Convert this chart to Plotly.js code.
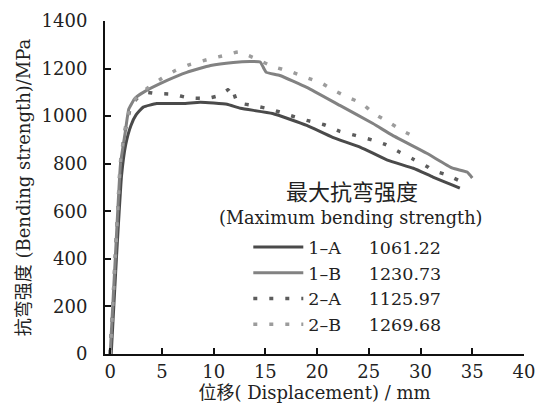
<!DOCTYPE html>
<html>
<head>
<meta charset="utf-8">
<script src="https://cdn.plot.ly/plotly-3.0.1.min.js"></script>
<style>html,body{margin:0;padding:0;background:#fff;}#chart{width:542px;height:407px;}</style>
</head>
<body>
<div id="chart"></div>
<script>
// Series 1-A (dark solid)
const x1A = [0.1,0.6,1.1,1.5,2.0,2.5,3.2,4.5,7.0,8.7,10.0,11.3,12.6,15.7,19.0,21.5,24.2,26.8,29.3,31.2,33.1,33.8];
const y1A = [0,400,750,880,960,1005,1038,1053,1053,1058,1055,1050,1033,1011,961,911,869,815,781,744,710,697];
// Series 1-B (grey solid)
const x1B = [0,0.5,1.0,1.45,1.8,2.4,3.2,5.5,7.4,9.7,11.9,13.5,14.5,14.8,15.1,16.4,19.0,22.2,25.4,27.3,30.6,33.1,34.5,35.0];
const y1B = [0,408,800,930,1030,1075,1100,1150,1184,1213,1226,1230,1228,1205,1184,1171,1121,1045,969,919,844,781,765,740];
// Series 2-A (dark dotted)
const x2A = [0,0.5,1.0,1.5,2.0,2.6,3.5,4.3,6.0,7.6,9.4,10.6,11.5,11.7,12.3,13.8,15.6,17.4,19.0,20.6,22.2,23.7,25.3,26.6,28.0,29.3,30.7,31.1,32.6,34.0];
const y2A = [0,410,800,950,1040,1075,1100,1096,1092,1077,1075,1088,1115,1126,1058,1045,1028,1003,982,965,936,919,900,881,848,819,786,773,752,723];
// Series 2-B (light dotted)
const x2B = [0,0.5,1.0,1.5,2.0,2.6,3.7,5.0,6.3,7.7,9.4,11.0,12.4,13.8,15.7,17.4,18.9,20.3,21.6,23.0,24.3,25.5,26.9,28.2,29.5];
const y2B = [0,410,810,960,1045,1080,1121,1159,1192,1217,1238,1255,1270,1247,1209,1188,1163,1142,1109,1079,1054,1011,975,940,911];

const names = ["1–A", "1–B", "2–A", "2–B"];
const maxStrength = ["1061.22", "1230.73", "1125.97", "1269.68"];
const legendTitle = ["最大抗弯强度", "(Maximum bending strength)"];
const xTicks = [0,5,10,15,20,25,30,35,40];
const yTicks = [0,200,400,600,800,1000,1200,1400];

const NB = "\u00a0\u00a0\u00a0\u00a0\u00a0";
const serif = "DejaVu Serif, Noto Sans CJK SC, serif";
const txt = "#222";

const traces = [
  {x:x1A, y:y1A, name:names[0]+NB+maxStrength[0], mode:"lines", line:{color:"#4a4a4a", width:3, shape:"spline", smoothing:0.4}},
  {x:x1B, y:y1B, name:names[1]+NB+maxStrength[1], mode:"lines", line:{color:"#828282", width:3, shape:"spline", smoothing:0.4}},
  {x:x2A, y:y2A, name:names[2]+NB+maxStrength[2], mode:"lines", line:{color:"#5c5c5c", width:3.5, dash:"4px,12px", shape:"spline", smoothing:0.4}},
  {x:x2B, y:y2B, name:names[3]+NB+maxStrength[3], mode:"lines", line:{color:"#9c9c9c", width:3.5, dash:"4px,12px", shape:"spline", smoothing:0.4}}
];

const layout = {
  width:542, height:407,
  margin:{l:105, r:18, t:21, b:53},
  paper_bgcolor:"#fff", plot_bgcolor:"#fff",
  font:{family:serif, size:18, color:txt},
  showlegend:true,
  legend:{x:0.342, xanchor:"left", y:0.375, yanchor:"top", bgcolor:"rgba(0,0,0,0)",
          font:{family:serif, size:17.5, color:txt}, itemwidth:50, tracegroupgap:0},
  xaxis:{range:[-0.5,40], tickvals:xTicks, ticks:"inside", ticklen:6, tickwidth:2, tickcolor:"#111",
         showline:true, linecolor:"#111", linewidth:2, showgrid:false, zeroline:false,
         tickfont:{family:serif, size:18, color:txt},
         title:{text:"位移( Displacement) / mm", font:{family:serif, size:18, color:txt}, standoff:2}},
  yaxis:{range:[0,1400], tickvals:yTicks, ticks:"inside", ticklen:6, tickwidth:2, tickcolor:"#111",
         showline:true, linecolor:"#111", linewidth:2, showgrid:false, zeroline:false,
         tickfont:{family:serif, size:18, color:txt}, ticklabelstandoff:12,
         title:{text:"抗弯强度 (Bending strength)/MPa", font:{family:serif, size:18, color:txt}, standoff:6}},
  annotations:[
    {text:legendTitle[0], xref:"paper", yref:"paper", x:0.589, y:0.486, xanchor:"center", yanchor:"middle", showarrow:false, font:{family:serif, size:22, color:txt}},
    {text:legendTitle[1], xref:"paper", yref:"paper", x:0.585, y:0.408, xanchor:"center", yanchor:"middle", showarrow:false, font:{family:serif, size:17.7, color:txt}}
  ]
};

Plotly.newPlot("chart", traces, layout, {displayModeBar:false, staticPlot:true});
</script>
</body>
</html>
